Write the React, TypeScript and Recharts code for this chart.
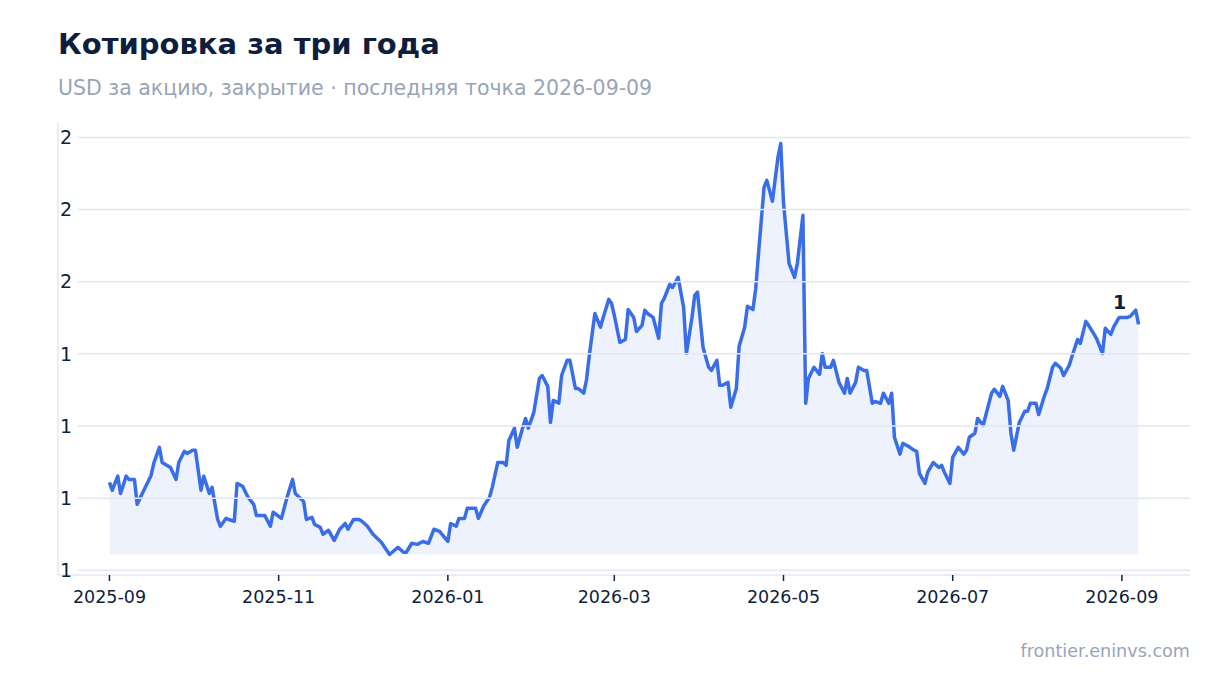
import React from "react";
import { Area, ComposedChart, Line, XAxis, YAxis } from "recharts";

// days since 2025-09-01
const DAYS = [
  0, 1, 3, 4, 6, 7, 9, 10, 12, 15, 16, 18, 19, 22, 24, 25, 27, 28, 30, 31,
  33, 34, 36, 37, 39, 40, 42, 43, 45, 46, 48, 50, 52, 53, 56, 58, 59, 62, 64, 66,
  67, 70, 71, 73, 74, 76, 77, 79, 81, 83, 85, 86, 88, 90, 91, 93, 95, 98, 101, 104,
  106, 107, 109, 111, 113, 115, 117, 119, 122, 123, 125, 126, 128, 129, 132, 133, 135, 137, 138, 140,
  142, 143, 144, 146, 147, 149, 150, 151, 153, 155, 156, 158, 159, 160, 162, 163, 165, 166, 168, 169,
  171, 172, 173, 175, 177, 178, 180, 181, 182, 184, 186, 187, 189, 190, 192, 193, 194, 196, 198, 199,
  200, 202, 203, 205, 207, 208, 210, 211, 212, 214, 216, 217, 219, 220, 221, 223, 224, 226, 227, 229,
  230, 232, 233, 234, 236, 237, 239, 241, 242, 243, 245, 247, 248, 250, 251, 252, 254, 256, 257, 258,
  260, 261, 263, 265, 266, 267, 269, 270, 272, 273, 275, 276, 278, 279, 281, 282, 283, 285, 286, 288,
  290, 291, 292, 294, 295, 297, 299, 300, 301, 303, 304, 306, 308, 309, 310, 312, 313, 315, 316, 318,
  319, 321, 322, 324, 325, 326, 328, 330, 331, 332, 334, 335, 337, 338, 340, 341, 343, 344, 346, 347,
  349, 350, 352, 353, 355, 356, 358, 359, 361, 362, 364, 365, 367, 368, 370, 371,
];

// close, USD per share
const PRICES = [
  1.044, 1.022, 1.061, 1.013, 1.061, 1.052, 1.052, 0.983, 1.016, 1.063, 1.097, 1.141, 1.099, 1.085, 1.052, 1.099, 1.13, 1.124, 1.133, 1.133,
  1.022, 1.061, 1.013, 1.03, 0.941, 0.922, 0.944, 0.941, 0.936, 1.041, 1.033, 1.002, 0.983, 0.952, 0.952, 0.922, 0.961, 0.944, 1.002, 1.052,
  1.013, 0.991, 0.941, 0.947, 0.927, 0.919, 0.9, 0.911, 0.883, 0.914, 0.93, 0.914, 0.941, 0.941, 0.936, 0.922, 0.9, 0.878, 0.844, 0.864,
  0.85, 0.85, 0.875, 0.872, 0.88, 0.875, 0.914, 0.908, 0.88, 0.93, 0.922, 0.944, 0.944, 0.972, 0.972, 0.944, 0.98, 1.002, 1.03, 1.099,
  1.099, 1.091, 1.16, 1.194, 1.141, 1.196, 1.221, 1.194, 1.238, 1.332, 1.34, 1.31, 1.21, 1.271, 1.263, 1.34, 1.382, 1.382, 1.304, 1.304,
  1.291, 1.329, 1.396, 1.512, 1.474, 1.501, 1.551, 1.54, 1.507, 1.432, 1.44, 1.523, 1.501, 1.462, 1.479, 1.521, 1.512, 1.501, 1.443, 1.54,
  1.554, 1.593, 1.584, 1.612, 1.529, 1.401, 1.501, 1.562, 1.571, 1.418, 1.363, 1.354, 1.382, 1.313, 1.313, 1.321, 1.252, 1.304, 1.421, 1.474,
  1.532, 1.523, 1.582, 1.679, 1.862, 1.881, 1.823, 1.945, 1.983, 1.82, 1.651, 1.612, 1.651, 1.784, 1.263, 1.332, 1.363, 1.343, 1.401, 1.363,
  1.363, 1.382, 1.321, 1.291, 1.332, 1.291, 1.321, 1.363, 1.354, 1.354, 1.263, 1.268, 1.263, 1.291, 1.263, 1.291, 1.169, 1.122, 1.152, 1.144,
  1.133, 1.13, 1.069, 1.041, 1.072, 1.099, 1.085, 1.091, 1.072, 1.041, 1.113, 1.141, 1.122, 1.133, 1.169, 1.18, 1.221, 1.202, 1.232, 1.291,
  1.302, 1.282, 1.31, 1.271, 1.18, 1.133, 1.21, 1.241, 1.241, 1.263, 1.263, 1.232, 1.282, 1.302, 1.363, 1.374, 1.36, 1.34, 1.368, 1.393,
  1.44, 1.429, 1.49, 1.479, 1.454, 1.44, 1.401, 1.471, 1.454, 1.474, 1.501, 1.501, 1.501, 1.504, 1.521, 1.482,
];

const TICK_DAYS = [0, 61, 122, 182, 243, 304, 365];
const TICK_LABELS = ["2025-09", "2025-11", "2026-01", "2026-03", "2026-05", "2026-07", "2026-09"];
const Y_TICKS = [0.8, 1.0, 1.2, 1.4, 1.6, 1.8, 2.0];

const data = DAYS.map((d, i) => ({ day: d, price: PRICES[i] }));

const minP = Math.min(...PRICES);
const maxP = Math.max(...PRICES);
const padY = (maxP - minP) * 0.05;
const padX = (DAYS[DAYS.length - 1] - DAYS[0]) * 0.05;

const FONT = "DejaVu Sans, sans-serif";
const INK = "#0f1e3d";
const MUTED = "#98a4b8";
const BLUE = "#3a6ee8";
const GRID = "#e3e7ef";

const W = 1220;
const H = 693;
const PLOT_LEFT = 58;
const Y_W = 2;
const M = { top: 123, right: 30, bottom: 88, left: PLOT_LEFT - Y_W };
const PLOT_W = W - PLOT_LEFT - M.right;

function YTick(props: any) {
  const { y, payload } = props;
  return (
    <g>
      <line x1={PLOT_LEFT + 20} x2={PLOT_LEFT + PLOT_W} y1={y} y2={y} stroke={GRID} strokeWidth={1.5} />
      <text x={PLOT_LEFT + 8} y={y} dy="0.35em" textAnchor="middle" fontSize={19} fill={INK} fontFamily={FONT}>
        {Math.round(payload.value)}
      </text>
    </g>
  );
}

function LastLabel(props: any) {
  const { x, y, index, value } = props;
  if (index !== DAYS.length - 1) return null;
  return (
    <text x={x - 19} y={y - 15} textAnchor="middle" fontSize={19} fontWeight="bold" fill={INK} fontFamily={FONT}>
      {Math.round(value)}
    </text>
  );
}

export default function App() {
  return (
    <div style={{ position: "absolute", left: 0, top: 0, width: W, height: H, background: "#fff", fontFamily: FONT }}>
      <div style={{ position: "absolute", left: 58, top: 27, fontSize: 29, fontWeight: "bold", color: INK }}>
        Котировка за три года
      </div>
      <div style={{ position: "absolute", left: 58, top: 76, fontSize: 20.5, color: MUTED }}>
        USD за акцию, закрытие · последняя точка 2026-09-09
      </div>
      <div style={{ position: "absolute", right: 30, top: 641, fontSize: 17.6, color: MUTED }}>
        frontier.eninvs.com
      </div>
      <div style={{ position: "absolute", left: 0, top: 0 }}>
        <ComposedChart width={W} height={H} data={data} margin={M}>
          <XAxis
            type="number"
            dataKey="day"
            domain={[DAYS[0] - padX, DAYS[DAYS.length - 1] + padX]}
            ticks={TICK_DAYS}
            tickFormatter={(v: number) => TICK_LABELS[TICK_DAYS.indexOf(v)] ?? ""}
            height={30}
            stroke={GRID}
            strokeWidth={1.5}
            tickSize={6}
            tickMargin={10}
            tickLine={{ stroke: INK, strokeWidth: 1.5 }}
            tick={{ fill: INK, fontSize: 17.5, fontFamily: FONT }}
          />
          <YAxis
            type="number"
            domain={[minP - padY, maxP + padY]}
            ticks={Y_TICKS}
            width={Y_W}
            stroke={GRID}
            strokeWidth={1.5}
            tickLine={false}
            tick={<YTick />}
          />
          <Area
            dataKey="price"
            baseValue={minP}
            fill={BLUE}
            fillOpacity={0.09}
            stroke={BLUE}
            strokeOpacity={0.1}
            isAnimationActive={false}
          />
          <Line
            dataKey="price"
            stroke={BLUE}
            strokeWidth={3.5}
            strokeLinejoin="round"
            dot={false}
            label={<LastLabel />}
            isAnimationActive={false}
          />
        </ComposedChart>
      </div>
    </div>
  );
}
